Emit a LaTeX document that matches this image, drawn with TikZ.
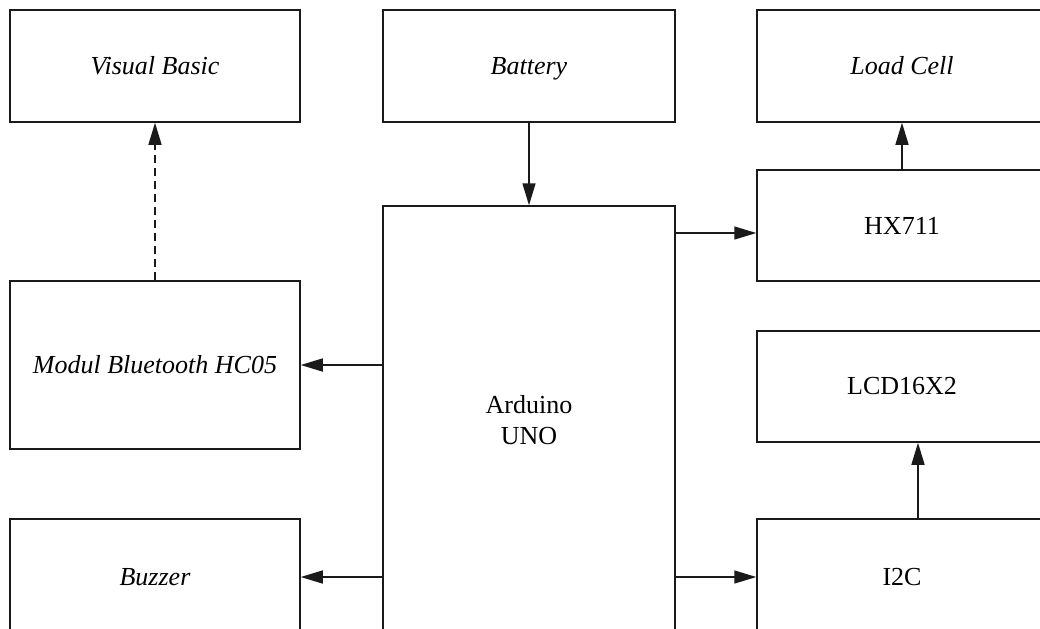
\documentclass[tikz,border=0pt]{standalone}
\usepackage{fontspec}
\setmainfont{Liberation Serif}
\usetikzlibrary{arrows.meta,calc}
\definecolor{cLine}{HTML}{1A1A1A}
\tikzset{
  node-box/.style={draw=cLine,line width=0.75pt,minimum width=145pt,
    minimum height=56pt,align=center,inner sep=0pt,
    font=\fontsize{13}{15.5}\selectfont},
  node-soft/.style={font=\fontsize{13}{15.5}\selectfont\itshape,
    text height=9.5pt,text depth=1.5pt},
  arrow/.style={-{Triangle[length=11pt,width=6.5pt]},line width=0.75pt,draw=cLine},
  arrow-link/.style={arrow,dash pattern=on 4pt off 2.5pt},
}
\begin{document}
\begin{tikzpicture}[x=0.5pt,y=-0.5pt]
  \useasboundingbox (0,0) rectangle (1040,628);
  \fill[white] (0,0) rectangle (1040,628);
  \clip (0,0) rectangle (1040,628);
  % top row
  \node[node-box,node-soft] (vb) at (155,66) {Visual Basic};
  \node[node-box,node-soft,minimum width=146pt] (bat) at (529,66) {Battery};
  \node[node-box,node-soft] (load) at (902,66) {Load Cell};
  % controller
  \node[node-box,minimum width=146pt,minimum height=214pt] (ard) at (529,420)
    {Arduino\\UNO};
  % left column
  \node[node-box,node-soft,minimum height=84pt] (bt) at (155,365)
    {Modul Bluetooth HC05};
  \node[node-box,node-soft,minimum height=58pt] (buz) at (155,577) {Buzzer};
  % right column
  \node[node-box,minimum height=55.5pt] (hx) at (902,225.5) {HX711};
  \node[node-box,minimum height=55.5pt] (lcd) at (902,386.5) {LCD16X2};
  \node[node-box,minimum height=58pt] (i2c) at (902,577) {I2C};
  % connections
  \draw[arrow] (bat.south) -- (ard.north);
  \draw[arrow] ([yshift=-3.75pt]ard.east |- hx.west) -- ([yshift=-3.75pt]hx.west);
  \draw[arrow] (ard.west |- bt.east) -- (bt.east);
  \draw[arrow] (ard.west |- buz.east) -- (buz.east);
  \draw[arrow] (ard.east |- i2c.west) -- (i2c.west);
  \draw[arrow] (hx.north) -- (load.south);
  \draw[arrow] ([xshift=8pt]i2c.north) -- ([xshift=8pt]lcd.south);
  \draw[arrow-link] (bt.north) -- (vb.south);
\end{tikzpicture}
\end{document}
